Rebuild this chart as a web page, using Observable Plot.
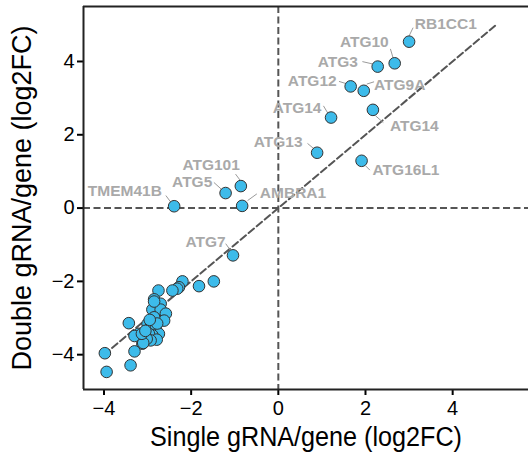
<!DOCTYPE html>
<html>
<head>
<meta charset="utf-8">
<script src="https://cdn.jsdelivr.net/npm/d3@7"></script>
<script src="https://cdn.jsdelivr.net/npm/@observablehq/plot@0.6"></script>
<style>
  body { margin: 0; background: #fff; }
  #chart svg { display: block; }
</style>
</head>
<body>
<div id="chart"></div>
<script>
// Autophagy genes: knockout effect with one vs two gRNAs per gene (log2 fold change)
const labeledGenes  = ["RB1CC1", "ATG10", "ATG3", "ATG12", "ATG9A", "ATG14", "ATG14", "ATG13", "ATG16L1", "ATG101", "ATG5", "AMBRA1", "TMEM41B", "ATG7"];
const labeledSingle = [3.00, 2.67, 2.28, 1.66, 1.96, 1.21, 2.17, 0.89, 1.91, -0.86, -1.21, -0.83, -2.39, -1.04];
const labeledDouble = [4.54, 3.95, 3.86, 3.32, 3.20, 2.47, 2.68, 1.51, 1.29, 0.60, 0.41, 0.06, 0.05, -1.29];

// Remaining (unlabelled) genes
const otherSingle = [-1.48, -1.82, -2.20, -2.28, -2.32, -2.43, -2.75, -2.85, -2.70, -2.89, -2.70, -2.58, -2.62, -2.85, -3.00, -2.93, -2.81, -2.74, -2.89, -2.97, -2.79, -2.93, -3.08, -3.12, -3.02, -3.10, -3.20, -3.30, -3.43, -3.30, -3.39, -3.94, -3.98, -3.13, -2.85, -2.78, -2.95, -3.05];
const otherDouble = [-2.00, -2.13, -2.00, -2.16, -2.20, -2.25, -2.25, -2.49, -2.61, -2.77, -2.77, -2.88, -3.07, -2.98, -3.16, -3.25, -3.29, -3.43, -3.47, -3.43, -3.59, -3.61, -3.57, -3.70, -3.57, -3.68, -3.43, -3.49, -3.14, -3.91, -4.29, -4.47, -3.96, -3.43, -2.55, -3.15, -3.05, -3.35];

const axisTicks = [-4, -2, 0, 2, 4];
const identityRange = [-4, 5];

// Repelled label placement, in pixels relative to each point:
// text offset, text anchor, and the connector segment
const labelLayout = [
  {tdx: 5.7,   tdy: -18,   anchor: "start", seg: [0, -5.7, 4, -14]},
  {tdx: -6,    tdy: -21,   anchor: "end",   seg: [-4.3, -14.4, -1.6, -5.4]},
  {tdx: -19.7, tdy: -5,    anchor: "end",   seg: [-15.3, -5, -5.3, -2.7]},
  {tdx: -14,   tdy: -5,    anchor: "end",   seg: [-11.7, -5, -3.3, -2.4]},
  {tdx: 10.3,  tdy: -5.7,  anchor: "start", seg: [3, -6.7, 10.3, -9]},
  {tdx: -9.6,  tdy: -10,   anchor: "end",   seg: [-7.6, -11.7, -3, -4]},
  {tdx: 17,    tdy: 16,    anchor: "start", seg: [2.7, 6, 10.4, 12.7]},
  {tdx: -14.6, tdy: -10.3, anchor: "end",   seg: [-9.6, -9.3, -3.6, -4.3]},
  {tdx: 11,    tdy: 9,     anchor: "start", seg: [4, 5, 8.3, 9.3]},
  {tdx: -1,    tdy: -21,   anchor: "end",   seg: [-5.3, -12, -0.3, -5.3]},
  {tdx: -13.3, tdy: -11.3, anchor: "end",   seg: [-11.7, -10.6, -3.3, -3]},
  {tdx: 17.7,  tdy: -13,   anchor: "start", seg: [5.4, -5.3, 14.7, -12]},
  {tdx: -12.3, tdy: -15.7, anchor: "end",   seg: [-8.3, -10.7, -3.3, -4]},
  {tdx: -7.3,  tdy: -13,   anchor: "end",   seg: [-7.3, -11.7, -2.3, -4.7]}
];

const W = 528, H = 461;
const margin = {top: 6, right: 0, bottom: 72, left: 83};
const xDomain = [-4.47, 5.74];
const yDomain = [-4.95, 5.5];
const kx = (W - margin.left - margin.right) / (xDomain[1] - xDomain[0]);
const ky = (H - margin.top - margin.bottom) / (yDomain[1] - yDomain[0]);

const points = [
  ...labeledSingle.map((s, i) => ({single: s, double: labeledDouble[i]})),
  ...otherSingle.map((s, i) => ({single: s, double: otherDouble[i]}))
];

const labels = labeledGenes.map((g, i) => {
  const L = labelLayout[i];
  const x = labeledSingle[i], y = labeledDouble[i];
  return {
    gene: g, anchor: L.anchor,
    tx: x + L.tdx / kx, ty: y - L.tdy / ky,
    x1: x + L.seg[0] / kx, y1: y - L.seg[1] / ky,
    x2: x + L.seg[2] / kx, y2: y - L.seg[3] / ky
  };
});

const dash = {stroke: "#555", strokeWidth: 2, strokeDasharray: "7,3.5"};
const labelFont = {fill: "#a9a9a9", fontWeight: "bold", fontSize: 15.5, fontFamily: "Liberation Sans, Arial, sans-serif"};

const chart = Plot.plot({
  width: W,
  height: H,
  marginTop: margin.top,
  marginRight: margin.right,
  marginBottom: margin.bottom,
  marginLeft: margin.left,
  style: {fontFamily: "Liberation Sans, Arial, sans-serif", fontSize: "20px", color: "#000", background: "#fff"},
  x: {domain: xDomain, ticks: axisTicks, tickSize: 6, tickPadding: 5, label: "Single gRNA/gene (log2FC)", labelAnchor: "center", labelOffset: 56, labelArrow: "none"},
  y: {domain: yDomain, ticks: axisTicks, tickSize: 6, tickPadding: 3, label: "Double gRNA/gene (log2FC)", labelAnchor: "center", labelOffset: 72, labelArrow: "none"},
  marks: [
    Plot.ruleX([0], dash),
    Plot.ruleY([0], dash),
    Plot.line(identityRange.map(v => [v, v]), dash),
    Plot.link(labels, {x1: "x1", y1: "y1", x2: "x2", y2: "y2", stroke: "#9a9a9a", strokeWidth: 1}),
    Plot.dot(points, {x: "single", y: "double", r: 5.8, fill: "#3dbbea", stroke: "#333", strokeWidth: 1, fillOpacity: 1}),
    ...["start", "end"].map(a =>
      Plot.text(labels.filter(d => d.anchor === a), {x: "tx", y: "ty", text: "gene", textAnchor: a, ...labelFont})
    ),
    // frame: left, bottom and top borders
    Plot.ruleX([xDomain[0]], {stroke: "#222", strokeWidth: 2}),
    Plot.ruleY([yDomain[0]], {stroke: "#222", strokeWidth: 2}),
    Plot.ruleY([yDomain[1]], {stroke: "#222", strokeWidth: 2})
  ]
});

// Axis titles: larger type, x title condensed to its printed width
const xl = chart.querySelector('g[aria-label="x-axis label"] text');
if (xl) { xl.setAttribute("font-size", "27px"); xl.setAttribute("textLength", "312"); xl.setAttribute("lengthAdjust", "spacingAndGlyphs"); }
const yl = chart.querySelector('g[aria-label="y-axis label"] text');
if (yl) { yl.setAttribute("font-size", "27px"); }
chart.querySelectorAll('g[aria-label$="tick"] path').forEach(p => p.setAttribute("stroke-width", "2"));

document.getElementById("chart").appendChild(chart);
</script>
</body>
</html>
